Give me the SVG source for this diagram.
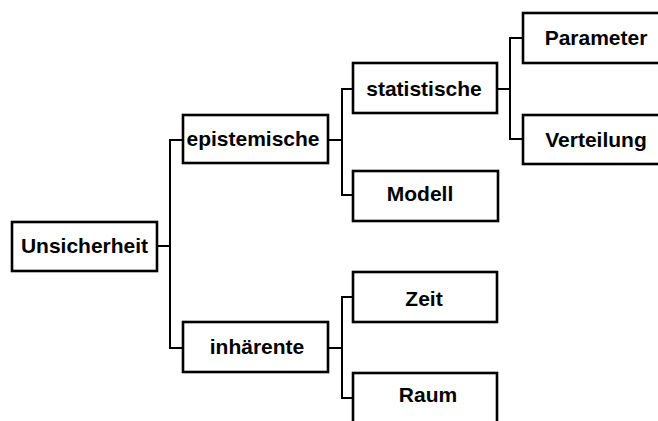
<svg xmlns="http://www.w3.org/2000/svg" width="658" height="421" viewBox="0 0 658 421">
<style>
.box{fill:#fff;stroke:#000;stroke-width:2.6}
.lbl{font-family:"Liberation Sans",Arial,sans-serif;font-size:21px;font-weight:bold;text-anchor:middle;fill:#000}
.con{fill:none;stroke:#000;stroke-width:2}
</style>
<rect width="658" height="421" fill="#fff"/>
<g id="connectors">
<path class="con" d="M157,246 H170"/>
<path class="con" d="M183,140 H170 V348 H183"/>
<path class="con" d="M328,140 H342"/>
<path class="con" d="M353,89 H342 V195 H353"/>
<path class="con" d="M497,89 H510"/>
<path class="con" d="M523,38 H510 V139 H523"/>
<path class="con" d="M328,348 H342"/>
<path class="con" d="M353,297 H342 V398 H353"/>
</g>
<g id="unsicherheit"><rect class="box" x="12" y="222" width="145" height="49"/><text class="lbl" x="84.5" y="253">Unsicherheit</text></g>
<g id="epistemische"><rect class="box" x="183" y="115" width="145" height="48"/><text class="lbl" x="253" y="146">epistemische</text></g>
<g id="inhaerente"><rect class="box" x="183" y="322" width="145" height="50"/><text class="lbl" x="257" y="354">inhärente</text></g>
<g id="statistische"><rect class="box" x="353" y="63" width="144" height="50"/><text class="lbl" x="424" y="96">statistische</text></g>
<g id="modell"><rect class="box" x="353" y="171" width="145" height="50"/><text class="lbl" x="420" y="201">Modell</text></g>
<g id="zeit"><rect class="box" x="353" y="272" width="144" height="50"/><text class="lbl" x="424" y="306">Zeit</text></g>
<g id="raum"><rect class="box" x="353" y="373" width="144" height="50"/><text class="lbl" x="428" y="402">Raum</text></g>
<g id="parameter"><rect class="box" x="523" y="13" width="146" height="50"/><text class="lbl" x="596" y="45">Parameter</text></g>
<g id="verteilung"><rect class="box" x="523" y="115" width="146" height="49"/><text class="lbl" x="596" y="147">Verteilung</text></g>
</svg>
